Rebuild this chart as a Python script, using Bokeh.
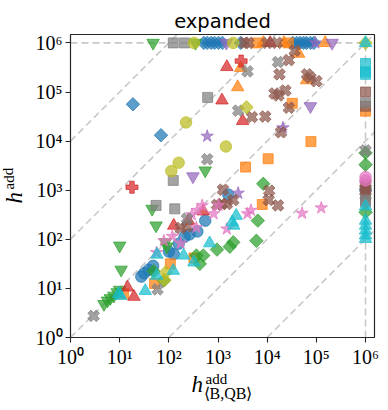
import numpy as np
from bokeh.plotting import figure
from bokeh.models import FixedTicker, LabelSet, Range1d, ColumnDataSource
from bokeh.core.properties import value
from bokeh.embed import file_html
from bokeh.resources import INLINE

# ---- data (stored as log10 of h) ----
TICK_EXP = [0, 1, 2, 3, 4, 5, 6]
TICK_LABELS = ["10⁰", "10¹", "10²", "10³", "10⁴", "10⁵", "10⁶"]
CAP_EXP = 6.0                       # runs that hit the 10^6 limit
RATIO_EXP = [-4, -2, 0, 2, 4]       # dashed reference lines y = 10^k * x
TITLE = "expanded"
XLABEL_PARTS = ["h", "add", "⟨B,QB⟩"]
YLABEL_PARTS = ["h", "add"]

blue_circle_x = [1.44, 1.50, 1.59, 1.68, 2.00, 2.10, 2.20, 2.32, 2.42, 2.58, 2.74, 3.21, 6.0]
blue_circle_y = [1.24, 1.31, 1.38, 1.46, 1.75, 1.70, 1.91, 2.05, 2.10, 2.16, 2.38, 2.91, 3.01]

blue_diamond_x = [1.27, 1.84, 2.71, 2.78, 2.86, 2.93, 3.01, 3.09, 3.46, 4.52, 4.60, 4.67, 4.74, 4.80, 4.88, 4.95]
blue_diamond_y = [4.75, 4.12, 6, 6, 6, 6, 6, 6, 6, 6, 6, 6, 6, 6, 6, 6]

orange_square_x = [1.08, 1.71, 2.03, 2.51, 3.56, 4.02, 4.89, 4.51, 3.90, 6.0, 3.79, 4.43]
orange_square_y = [0.89, 1.10, 1.50, 1.62, 3.47, 3.64, 3.99, 4.77, 2.71, 4.61, 6, 6]

orange_triangle_x = [3.46, 3.40, 4.64, 4.80, 3.92, 4.34, 5.18]
orange_triangle_y = [5.49, 5.10, 5.78, 5.24, 6, 6, 6]

green_tri_down_x = [1.68, 2.54, 1.66, 1.74, 1.00, 1.03, 0.68, 0.75, 0.81, 0.88, 0.95, 1.00, 1.93, 1.96, 2.74]
green_tri_down_y = [6, 6, 2.62, 2.28, 1.87, 1.38, 0.68, 0.75, 0.80, 0.85, 0.92, 0.97, 1.94, 1.85, 3.40]

green_diamond_x = [3.92, 3.81, 3.78, 3.31, 3.24, 2.98, 2.70, 2.56, 2.63, 1.69, 1.90, 6, 6, 6]
green_diamond_y = [3.13, 2.38, 1.97, 1.94, 1.85, 1.79, 1.67, 1.67, 1.50, 1.35, 1.16, 3.76, 3.52, 2.55]

red_triangle_x = [3.18, 3.08, 3.50, 1.16, 1.29, 2.10, 2.40, 2.70, 4.06]
red_triangle_y = [5.51, 4.83, 4.41, 1.02, 0.83, 2.28, 2.38, 2.57, 6]

red_plus_x = [1.25, 3.47]
red_plus_y = [3.06, 5.63]

purple_tri_down_x = [2.49, 4.88, 5.32, 3.17]
purple_tri_down_y = [3.28, 4.71, 6, 6]

purple_star_x = [2.78, 3.41, 4.32, 4.98]
purple_star_y = [4.10, 2.94, 4.27, 6]

brown_x_x = [4.56, 4.44, 4.25, 4.81, 4.88, 5.00, 4.37, 4.15, 4.23, 4.44, 3.69, 3.96, 4.28, 4.04, 4.03, 4.22,
             3.31, 3.18, 3.08, 2.98, 3.10, 2.24, 2.37, 6, 6, 6, 6, 6, 3.54, 3.62, 4.00, 4.20]
brown_x_y = [5.84, 5.65, 5.36, 5.36, 5.29, 5.22, 5.03, 4.97, 4.93, 4.68, 4.49, 4.50, 4.18, 2.99, 2.80, 2.69,
             2.80, 2.72, 2.72, 2.70, 3.01, 2.23, 2.26, 3.14, 3.10, 3.04, 2.96, 2.89, 6, 6, 6, 6]

brown_square_x = [6, 6]
brown_square_y = [5.00, 4.71]

pink_star_x = [1.75, 1.90, 2.07, 2.24, 2.47, 2.56, 2.58, 2.68, 2.91, 3.01, 3.60, 3.67, 3.18, 4.71, 5.10]
pink_star_y = [1.73, 1.97, 2.06, 1.92, 2.50, 2.24, 2.59, 2.69, 2.52, 2.69, 2.52, 2.59, 2.21, 2.53, 2.64]

pink_circle_x = [6, 6]
pink_circle_y = [3.27, 3.20]

gray_square_x = [2.09, 2.32, 2.09, 2.79, 1.74, 2.12, 6, 6, 6]
gray_square_y = [6, 6, 3.20, 4.89, 2.69, 2.62, 4.78, 2.80, 2.76]

gray_x_x = [3.60, 3.41, 2.78, 0.47, 1.77, 2.37, 4.22, 6]
gray_x_y = [5.42, 4.62, 3.63, 0.44, 0.98, 2.42, 5.61, 3.81]

olive_circle_x = [2.51, 3.31, 2.35, 2.20, 2.05, 3.16]
olive_circle_y = [6, 6, 4.38, 3.56, 3.39, 3.89]

olive_diamond_x = [3.58, 1.94, 1.91, 6]
olive_diamond_y = [4.69, 1.33, 1.17, 6]

cyan_triangle_x = [0.98, 1.02, 1.52, 1.76, 1.75, 2.09, 2.30, 2.51, 2.83, 3.37, 3.29, 3.32, 6, 6, 6, 6, 6, 6, 6]
cyan_triangle_y = [0.89, 0.85, 0.95, 1.69, 1.26, 1.36, 1.67, 1.53, 1.92, 2.48, 2.35, 2.28, 6, 2.67, 2.38,
                   2.28, 2.18, 2.08, 2.01]

cyan_square_x = [6, 6, 6]
cyan_square_y = [5.58, 5.41, 5.36]

BLUE, ORANGE, GREEN, RED, PURPLE = "#1f77b4", "#ff7f0e", "#2ca02c", "#d62728", "#9467bd"
BROWN, PINK, GRAY, OLIVE, CYAN = "#8c564b", "#e377c2", "#7f7f7f", "#bcbd22", "#17becf"

# (color, marker kind, xs, ys)
SERIES = [
    (BLUE, "circle", blue_circle_x, blue_circle_y),
    (BLUE, "diamond", blue_diamond_x, blue_diamond_y),
    (ORANGE, "square", orange_square_x, orange_square_y),
    (ORANGE, "triangle", orange_triangle_x, orange_triangle_y),
    (GREEN, "tri_down", green_tri_down_x, green_tri_down_y),
    (GREEN, "diamond", green_diamond_x, green_diamond_y),
    (RED, "triangle", red_triangle_x, red_triangle_y),
    (RED, "plus", red_plus_x, red_plus_y),
    (PURPLE, "tri_down", purple_tri_down_x, purple_tri_down_y),
    (PURPLE, "star", purple_star_x, purple_star_y),
    (BROWN, "x", brown_x_x, brown_x_y),
    (BROWN, "square", brown_square_x, brown_square_y),
    (PINK, "star", pink_star_x, pink_star_y),
    (PINK, "circle", pink_circle_x, pink_circle_y),
    (GRAY, "square", gray_square_x, gray_square_y),
    (GRAY, "x", gray_x_x, gray_x_y),
    (OLIVE, "circle", olive_circle_x, olive_circle_y),
    (OLIVE, "diamond", olive_diamond_x, olive_diamond_y),
    (CYAN, "triangle", cyan_triangle_x, cyan_triangle_y),
    (CYAN, "square", cyan_square_x, cyan_square_y),
]

MARKER_STYLE = {
    "circle": dict(marker="circle", size=11.5, angle=0.0),
    "square": dict(marker="square", size=10, angle=0.0),
    "diamond": dict(marker="square", size=9.5, angle=np.pi / 4),
    "triangle": dict(marker="triangle", size=12.5, angle=0.0),
    "tri_down": dict(marker="inverted_triangle", size=12.5, angle=0.0),
    "star": dict(marker="star", size=13, angle=0.0),
    "plus": dict(marker="plus", size=12, angle=0.0),
    "x": dict(marker="plus", size=12, angle=np.pi / 4),
}

# ---- layout: the Bokeh frame fills the whole canvas; the axes are drawn at fixed
# locations so that the axis-label texts around them are not clipped ----
W, H = 388, 410
BOX_L, BOX_R, BOX_T, BOX_B = 70, 374, 34, 337      # pixel box of the axes area
PX_PER_DEC_X, PX_PER_DEC_Y = 49.17, 49.1
lo = 1.0
hi_x = 10 ** ((BOX_R - BOX_L) / PX_PER_DEC_X)
hi_y = 10 ** ((BOX_B - BOX_T) / PX_PER_DEC_Y)
x_range = Range1d(10 ** (-BOX_L / PX_PER_DEC_X), 10 ** ((W - BOX_L) / PX_PER_DEC_X))
y_range = Range1d(10 ** (-(H - BOX_B) / PX_PER_DEC_Y), 10 ** (BOX_B / PX_PER_DEC_Y))

p = figure(width=W, height=H, x_axis_type="log", y_axis_type="log",
           x_range=x_range, y_range=y_range,
           output_backend="svg", toolbar_location=None,
           min_border_left=0, min_border_right=0, min_border_top=0, min_border_bottom=0)
p.grid.visible = False
p.outline_line_color = None
p.background_fill_color = "white"
p.border_fill_color = "white"

ticks = [10.0 ** e for e in TICK_EXP]
overrides = {t: lab for t, lab in zip(ticks, TICK_LABELS)}
for ax in (p.xaxis[0], p.yaxis[0]):
    ax.fixed_location = lo
    ax.ticker = FixedTicker(ticks=ticks, minor_ticks=[])
    ax.major_label_overrides = overrides
    ax.major_label_text_font = "Liberation Serif"
    ax.major_label_text_font_size = "20px"
    ax.major_label_text_color = "#000000"
    ax.major_tick_out = 5
    ax.major_tick_in = 0
    ax.minor_tick_out = 0
    ax.minor_tick_in = 0
    ax.axis_line_color = None
    ax.major_tick_line_color = "#262626"
    ax.major_tick_line_width = 1.1
    ax.major_label_standoff = 3
p.xaxis[0].bounds = (lo, hi_x)
p.yaxis[0].bounds = (lo, hi_y)

# dashed reference lines, clipped to the axes box
DASH = dict(line_color="#c8c8c8", line_width=1.6, line_dash="7 4")
for k in RATIO_EXP:
    r = 10.0 ** k
    x0, x1 = max(lo, lo / r), min(hi_x, hi_y / r)
    if x0 < x1:
        p.line([x0, x1], [r * x0, r * x1], **DASH)
cap = 10.0 ** CAP_EXP
p.line([lo, cap], [cap, cap], **DASH)
p.line([cap, cap], [lo, cap], **DASH)

for color, kind, xs, ys in SERIES:
    st = MARKER_STYLE[kind]
    p.scatter([10.0 ** v for v in xs], [10.0 ** v for v in ys],
              marker=st["marker"], size=st["size"], angle=st["angle"],
              fill_color=color, line_color=color, fill_alpha=0.72, line_alpha=0.72, line_width=1)

# axes box (spines)
p.quad(left=[lo], right=[hi_x], bottom=[lo], top=[hi_y], fill_color=None,
       line_color="#262626", line_width=1.2)

# title and axis labels (italic h with roman super/subscripts); screen units, origin bottom-left
label_src = ColumnDataSource(dict(
    x=[191, 205, 203, 21, 13],
    y=[H - 391, H - 383, H - 398, H - 203, H - 189],
    text=XLABEL_PARTS + YLABEL_PARTS,
    size=["23px", "15px", "16px", "23px", "15px"],
    style=["italic", "normal", "normal", "italic", "normal"],
    angle=[0.0, 0.0, 0.0, np.pi / 2, np.pi / 2],
))
p.add_layout(LabelSet(x="x", y="y", text="text", source=label_src,
                      x_units="screen", y_units="screen",
                      text_font=value("Liberation Serif"), text_font_size="size",
                      text_font_style="style", angle="angle",
                      text_color="#000000", text_baseline="alphabetic", text_align="left"))

title_src = ColumnDataSource(dict(x=[(BOX_L + BOX_R) / 2], y=[H - 27.5], text=[TITLE]))
p.add_layout(LabelSet(x="x", y="y", text="text", source=title_src,
                      x_units="screen", y_units="screen",
                      text_font=value("DejaVu Sans"), text_font_size="19.5px",
                      text_color="#000000", text_baseline="alphabetic", text_align="center"))

open("out.html", "w").write(file_html(p, INLINE))
